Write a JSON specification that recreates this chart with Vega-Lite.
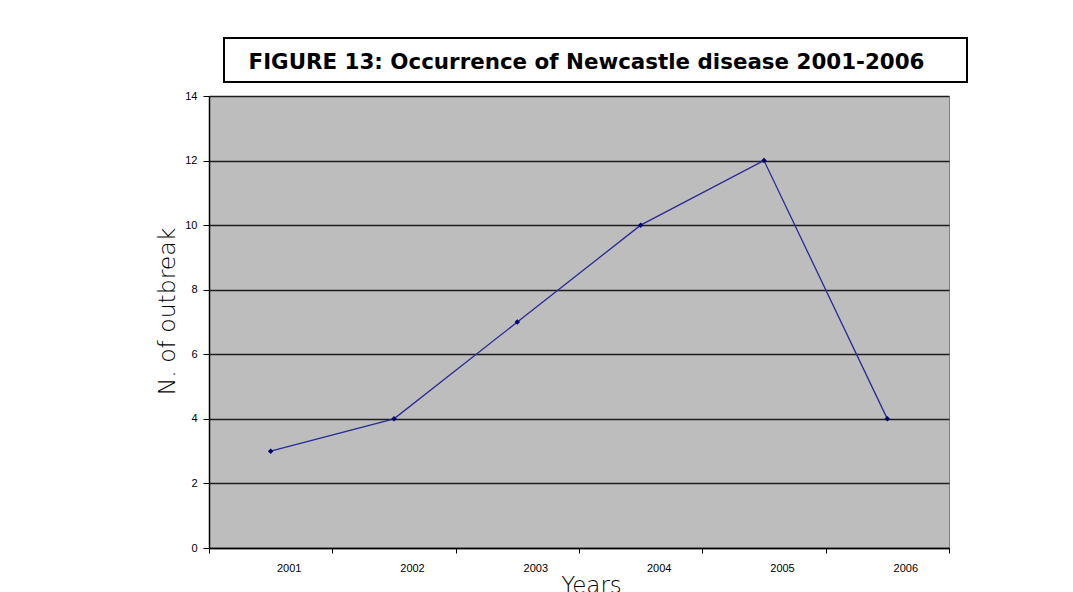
{
  "$schema": "https://vega.github.io/schema/vega-lite/v6.json",
  "padding": {"left": 155, "top": 37, "right": 0, "bottom": 0},
  "background": "white",
  "bounds": "full",
  "spacing": 6,
  "config": {"view": {"stroke": null}},
  "vconcat": [
    {
      "bounds": "full",
      "spacing": 13,
      "hconcat": [
        {
          "width": 1,
          "height": 44,
          "data": {"values": [{"t": ""}]},
          "mark": {"type": "text"},
          "encoding": {"text": {"field": "t"}}
        },
        {
          "width": 743,
          "height": 44,
          "view": {"stroke": "black", "strokeWidth": 2},
          "data": {"values": [{"t": "FIGURE 13: Occurrence of Newcastle disease 2001-2006"}]},
          "mark": {"type": "text", "font": "DejaVu Sans", "fontWeight": "bold", "fontSize": 21.4, "color": "black", "baseline": "middle", "dx": -9, "dy": 3},
          "encoding": {"text": {"field": "t"}}
        }
      ]
    },
    {
      "width": 740,
      "height": 452,
      "view": {"fill": "#bdbdbd", "stroke": "#808080", "strokeWidth": 1},
      "data": {"values": [
        {"year": "2001", "n": 3},
        {"year": "2002", "n": 4},
        {"year": "2003", "n": 7},
        {"year": "2004", "n": 10},
        {"year": "2005", "n": 12},
        {"year": "2006", "n": 4}
      ]},
      "mark": {"type": "line", "color": "#2a2a96", "strokeWidth": 1.3,
        "point": {"shape": "diamond", "size": 30, "filled": true, "color": "#00006e", "opacity": 1}},
      "encoding": {
        "x": {
          "field": "year", "type": "ordinal",
          "scale": {"type": "band", "paddingInner": 0, "paddingOuter": 0},
          "axis": {
            "title": "Years", "titleFont": "DejaVu Sans", "titleFontSize": 23, "titleFontWeight": 300,
            "titleColor": "black", "titlePadding": 1, "titleX": 382,
            "labelAngle": 0, "labelOffset": 18, "labelFont": "Liberation Sans", "labelFontSize": 11,
            "labelColor": "black", "labelPadding": 9,
            "tickBand": "extent", "tickColor": "black", "tickSize": 5, "tickWidth": 1,
            "domainColor": "black", "domainWidth": 1.5, "grid": false
          }
        },
        "y": {
          "field": "n", "type": "quantitative",
          "scale": {"domain": [0, 14], "nice": false},
          "axis": {
            "values": [0, 2, 4, 6, 8, 10, 12, 14],
            "title": "N. of outbreak", "titleFont": "DejaVu Sans", "titleFontSize": 23.5, "titleFontWeight": 300,
            "titleColor": "black", "titlePadding": 5, "titleY": 215,
            "labelFont": "Liberation Sans", "labelFontSize": 11, "labelColor": "black", "labelPadding": 6,
            "tickColor": "black", "tickSize": 6, "tickWidth": 1,
            "domainColor": "black", "domainWidth": 1.5,
            "grid": true, "gridColor": "#1e1e1e", "gridWidth": 1.5
          }
        }
      }
    }
  ]
}
